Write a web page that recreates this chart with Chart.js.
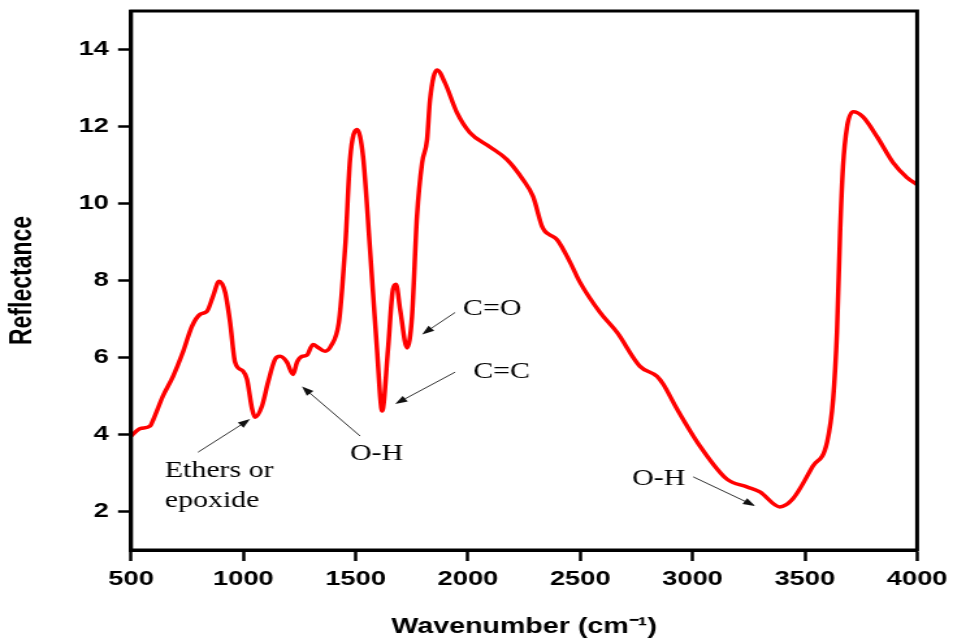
<!DOCTYPE html>
<html>
<head>
<meta charset="utf-8">
<script src="https://cdn.jsdelivr.net/npm/chart.js@4.4.1/dist/chart.umd.min.js"></script>
<style>
  body { margin: 0; background: #fff; }
</style>
</head>
<body>
<!-- the reference picture is stretched sideways, so the canvas is drawn narrow and widened -->
<canvas id="ftir" width="733" height="640" style="width:953px;height:640px"></canvas>
<script>
// spectrum
const wavenumber = [500, 540, 585, 600, 642, 687, 731, 771, 807, 838, 865, 892, 919, 941, 963, 999, 1016, 1039, 1052, 1083,
  1110, 1141, 1163, 1194, 1221, 1239, 1261, 1283, 1310, 1333, 1364, 1390, 1425, 1440, 1455, 1475, 1506, 1533, 1564, 1595,
  1618, 1644, 1666, 1680, 1698, 1729, 1751, 1773, 1796, 1818, 1831, 1862, 1898, 1951, 2009, 2098, 2174, 2245, 2290, 2330,
  2343, 2360, 2397, 2455, 2499, 2588, 2664, 2766, 2842, 2869, 2931, 3033, 3153, 3242, 3300, 3389, 3447, 3536, 3599, 3626,
  3643, 3657, 3670, 3688, 3715, 3759, 3822, 3893, 3955, 4000];
const reflectance = [3.96, 4.15, 4.22, 4.4, 5.0, 5.51, 6.14, 6.81, 7.12, 7.2, 7.59, 7.98, 7.69, 6.91, 5.88, 5.64, 5.44, 4.66, 4.45, 4.74,
  5.36, 5.95, 6.03, 5.88, 5.56, 5.88, 6.03, 6.06, 6.34, 6.26, 6.16, 6.3, 6.9, 7.8, 9.0, 11.14, 11.92, 11.22, 8.8, 6.21,
  4.61, 6.21, 7.77, 7.9, 7.25, 6.25, 7.07, 9.66, 11.06, 11.66, 12.69, 13.47, 13.13, 12.36, 11.84, 11.47, 11.14, 10.62, 10.18, 9.4,
  9.28, 9.2, 9.06, 8.47, 7.95, 7.17, 6.65, 5.77, 5.51, 5.31, 4.66, 3.7, 2.84, 2.64, 2.51, 2.12, 2.33, 3.18, 3.8, 4.92,
  6.65, 9.25, 10.96, 11.99, 12.38, 12.25, 11.73, 11.06, 10.67, 10.49];

const xTicks = [500, 1000, 1500, 2000, 2500, 3000, 3500, 4000];
const yTicks = [2, 4, 6, 8, 10, 12, 14];

// band labels: text spot and arrow (from -> to), in data units
const labels = [
  { lines: ["Ethers or", "epoxide"], x: 650, y: 3.05, from: [798, 3.54], to: [1030, 4.40] },
  { lines: ["O-H"], x: 1475, y: 3.49, from: [1520, 3.96], to: [1261, 5.25] },
  { lines: ["C=O"], x: 1978, y: 7.25, from: [1943, 7.17], to: [1796, 6.60] },
  { lines: ["C=C"], x: 2023, y: 5.62, from: [1943, 5.62], to: [1676, 4.79] },
  { lines: ["O-H"], x: 2731, y: 2.84, from: [3003, 2.90], to: [3279, 2.14] },
];

const tickFont = { family: "'Liberation Sans', Arial, sans-serif", size: 21, weight: "bold" };
const titleFont = { family: "'Liberation Sans', Arial, sans-serif", size: 22, weight: "bold" };

const framePlugin = {
  id: "frame",
  afterDraw(chart) {
    const { ctx, chartArea: a } = chart;
    ctx.save();
    ctx.strokeStyle = "#000";
    ctx.lineWidth = 3;
    ctx.strokeRect(a.left, a.top, a.right - a.left, a.bottom - a.top);
    ctx.restore();
  },
};

const notesPlugin = {
  id: "notes",
  afterDatasetsDraw(chart) {
    const { ctx, scales } = chart;
    const px = (v) => scales.x.getPixelForValue(v);
    const py = (v) => scales.y.getPixelForValue(v);
    ctx.save();
    labels.forEach((n) => {
      ctx.fillStyle = "#000";
      ctx.font = "23px 'Liberation Serif', 'Times New Roman', serif";
      ctx.textAlign = "left";
      ctx.textBaseline = "middle";
      n.lines.forEach((t, i) => ctx.fillText(t, px(n.x), py(n.y) + i * 30));

      const x1 = px(n.from[0]), y1 = py(n.from[1]);
      const x2 = px(n.to[0]), y2 = py(n.to[1]);
      const ang = Math.atan2(y2 - y1, x2 - x1);
      const head = 10;
      ctx.strokeStyle = "#333";
      ctx.fillStyle = "#111";
      ctx.lineWidth = 1;
      ctx.beginPath();
      ctx.moveTo(x1, y1);
      ctx.lineTo(x2 - head * 0.8 * Math.cos(ang), y2 - head * 0.8 * Math.sin(ang));
      ctx.stroke();
      ctx.beginPath();
      ctx.moveTo(x2, y2);
      ctx.lineTo(x2 - head * Math.cos(ang - 0.35), y2 - head * Math.sin(ang - 0.35));
      ctx.lineTo(x2 - head * Math.cos(ang + 0.35), y2 - head * Math.sin(ang + 0.35));
      ctx.closePath();
      ctx.fill();
    });
    ctx.restore();
  },
};

new Chart(document.getElementById("ftir"), {
  type: "line",
  data: {
    datasets: [{
      data: wavenumber.map((w, i) => ({ x: w, y: reflectance[i] })),
      borderColor: "#ff0000",
      borderWidth: 3.5,
      pointRadius: 0,
      cubicInterpolationMode: "monotone",
      fill: false,
    }],
  },
  options: {
    responsive: false,
    animation: false,
    devicePixelRatio: 1,
    layout: { padding: { left: 0, top: 11, right: 27.6, bottom: 0 } },
    plugins: { legend: { display: false }, tooltip: { enabled: false } },
    scales: {
      x: {
        type: "linear",
        min: 500,
        max: 4000,
        afterBuildTicks: (s) => { s.ticks = xTicks.map((v) => ({ value: v })); },
        afterFit: (s) => { s.height = 90; s.paddingLeft = 0; s.paddingRight = 0; },
        grid: { display: true, drawOnChartArea: false, tickLength: 11, tickColor: "#000", tickWidth: 2.5 },
        border: { display: true, color: "#000", width: 3 },
        ticks: { color: "#000", font: tickFont, padding: 6, maxRotation: 0, callback: (v) => String(v) },
        title: {
          display: true,
          text: "Wavenumber (cm\u207B\u00B9)",
          color: "#000",
          font: titleFont,
          padding: { top: 0, bottom: 0 },
        },
      },
      y: {
        type: "linear",
        min: 1,
        max: 15,
        afterBuildTicks: (s) => { s.ticks = yTicks.map((v) => ({ value: v })); },
        afterFit: (s) => { s.width = 100.8; s.paddingTop = 0; s.paddingBottom = 0; },
        grid: { display: true, drawOnChartArea: false, tickLength: 10, tickColor: "#000", tickWidth: 2.5 },
        border: { display: true, color: "#000", width: 3 },
        ticks: { color: "#000", font: tickFont, padding: 7, callback: (v) => String(v) },
        title: {
          display: true,
          text: "Reflectance",
          color: "#000",
          font: { family: "'Liberation Sans', Arial, sans-serif", size: 23, weight: "bold" },
          padding: { top: 4, bottom: 0 },
        },
      },
    },
  },
  plugins: [framePlugin, notesPlugin],
});
</script>
</body>
</html>
